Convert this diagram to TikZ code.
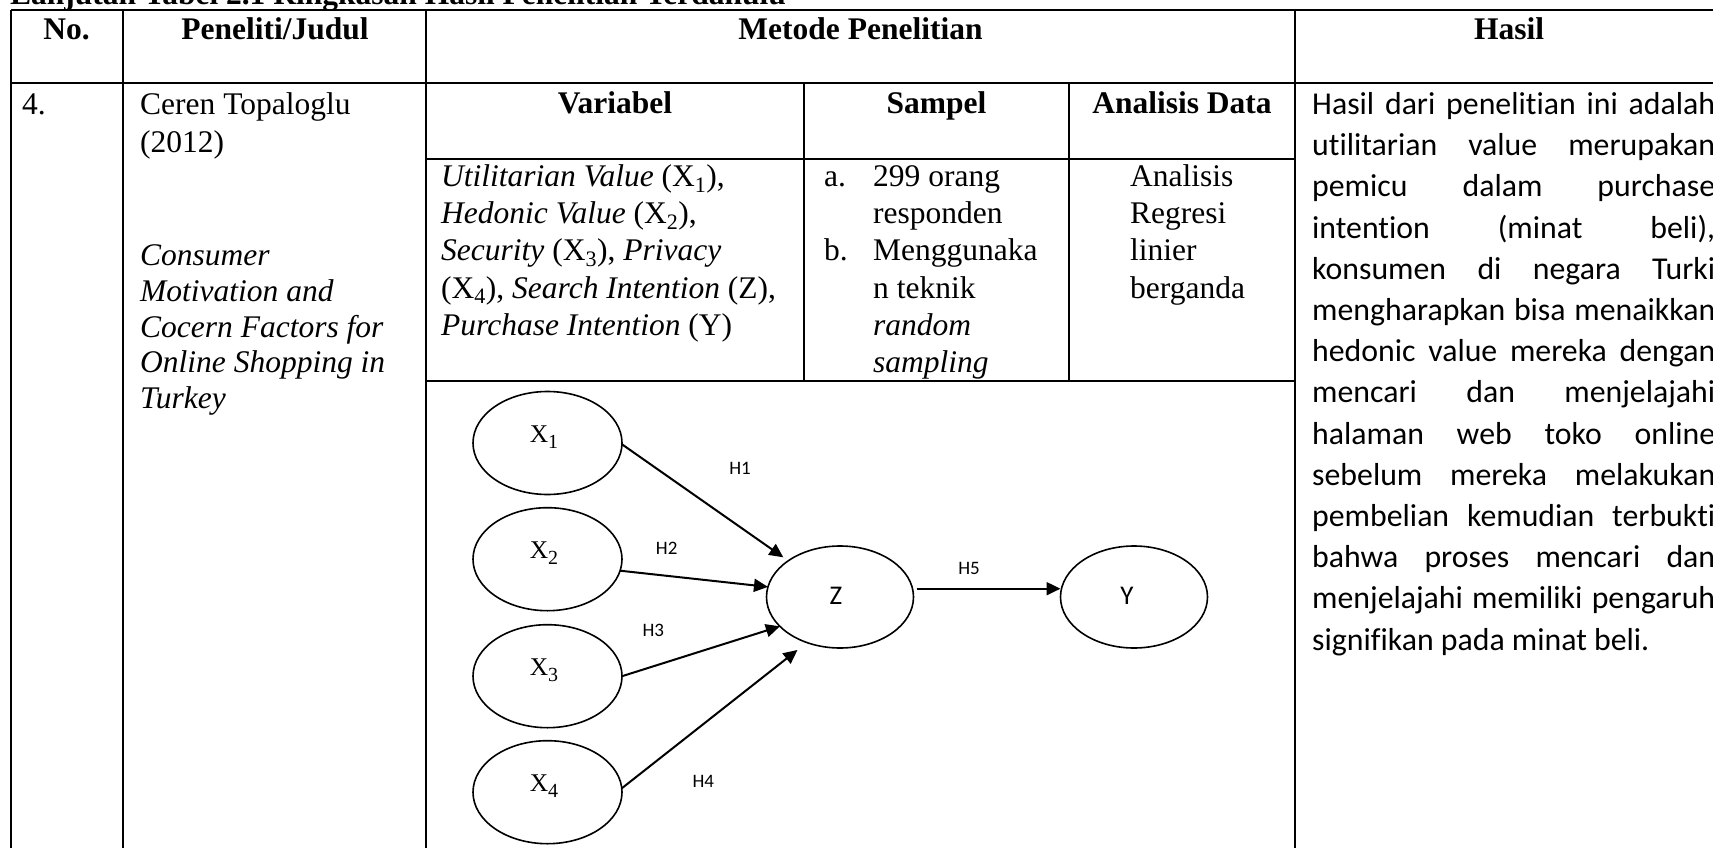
\documentclass[tikz,border=0pt]{standalone}
\usepackage{fontspec}
\setmainfont{Liberation Serif}
\newfontfamily\calibri[Ligatures={NoCommon,NoRare,NoContextual}]{Carlito}
\usetikzlibrary{shapes.geometric,arrows.meta}

% body text size of the table
\newcommand\tnr{\fontsize{31.5}{37.1}\selectfont}
% variable label inside an ellipse: X with a lowered index
\newcommand\varlab[1]{X\raisebox{-6pt}{\fontsize{20}{23}\selectfont #1}}

\tikzset{
  rule/.style={line width=2.2pt},
  hd/.style={font=\bfseries\tnr, anchor=base, inner sep=0pt},
  txt/.style={font=\tnr, anchor=base west, inner sep=0pt},
  ell/.style={draw, ellipse, line width=1.6pt, inner sep=0pt, outer sep=0pt,
              minimum width=149pt, minimum height=103pt},
  arr/.style={line width=2pt, -{Triangle[length=14pt,width=13pt]}},
  hyp/.style={font=\calibri\fontsize{19}{22}\selectfont, inner sep=0pt},
  xlab/.style={font=\fontsize{25.5}{29}\selectfont, anchor=base, inner sep=0pt},
  zlab/.style={font=\calibri\fontsize{27}{30}\selectfont, inner sep=0pt},
}

\begin{document}
\begin{tikzpicture}[x=1pt,y=-1pt]
\useasboundingbox (0,0) rectangle (1713,848);
\clip (0,0) rectangle (1713,848);
\fill[white] (0,0) rectangle (1713,848);

% caption above the table
\node[font=\bfseries\tnr, anchor=base west, inner sep=0pt] (caption) at (10,5)
  {Lanjutan Tabel 2.1 Ringkasan Hasil Penelitian Terdahulu};

% table rules
\draw[rule] (11,9.7) -- (1729,9.7);
\draw[rule] (11,83) -- (1729,83);
\draw[rule] (426,159) -- (1295,159);
\draw[rule] (426,380.7) -- (1295,380.7);
\draw[rule] (11,9.7) -- (11,860);
\draw[rule] (123,9.7) -- (123,860);
\draw[rule] (426,9.7) -- (426,860);
\draw[rule] (1295,9.7) -- (1295,860);
\draw[rule] (1729,9.7) -- (1729,860);
\draw[rule] (804,83) -- (804,380.7);
\draw[rule] (1069,83) -- (1069,380.7);

% header rows
\node[hd] (hno) at (66.5,40) {No.};
\node[hd] (hjudul) at (275,40) {Peneliti/Judul};
\node[hd] (hmetode) at (860.5,40) {Metode Penelitian};
\node[hd] (hhasil) at (1509,40) {Hasil};
\node[hd] (hvar) at (615,113.5) {Variabel};
\node[hd] (hsampel) at (936.5,113.5) {Sampel};
\node[hd] (hanalisis) at (1182,113.5) {Analisis Data};

% row 4
\node[txt] (no) at (22,115) {4.};
\node[txt] (peneliti) at (140,115)
  {\vtop{\hbox{Ceren Topaloglu}\hbox{(2012)}}};
\node[txt] (judul) at (140,265.5)
  {\vtop{\baselineskip=35.8pt\itshape
    \hbox{Consumer}\hbox{Motivation and}\hbox{Cocern Factors for}
    \hbox{Online Shopping in}\hbox{Turkey}}};
\node[txt] (variabel) at (441,186.7)
  {\vtop{\hbox{\textit{Utilitarian Value} (X\textsubscript{1}),}
    \hbox{\textit{Hedonic Value} (X\textsubscript{2}),}
    \hbox{\textit{Security} (X\textsubscript{3}), \textit{Privacy}}
    \hbox{(X\textsubscript{4}), \textit{Search Intention} (Z),}
    \hbox{\textit{Purchase Intention} (Y)}}};
\node[txt] (sampel) at (824,186.7)
  {\vtop{\hbox{\makebox[49pt][l]{a.}299 orang}
    \hbox{\hspace{49pt}responden}
    \hbox{\makebox[49pt][l]{b.}Menggunaka}
    \hbox{\hspace{49pt}n teknik}
    \hbox{\hspace{49pt}\textit{random}}
    \hbox{\hspace{49pt}\textit{sampling}}}};
\node[txt] (analisis) at (1130,186.7)
  {\vtop{\hbox{Analisis}\hbox{Regresi}\hbox{linier}\hbox{berganda}}};
\node[txt, font=\calibri\fontsize{31.8}{41.2}\selectfont] (hasil) at (1312,114.5)
  {\vtop{\hbox to 403pt{Hasil dari penelitian ini adalah}
    \hbox to 403pt{utilitarian value merupakan}
    \hbox to 403pt{pemicu dalam purchase}
    \hbox to 403pt{intention (minat beli),}
    \hbox to 403pt{konsumen di negara Turki}
    \hbox to 403pt{mengharapkan bisa menaikkan}
    \hbox to 403pt{hedonic value mereka dengan}
    \hbox to 403pt{mencari dan menjelajahi}
    \hbox to 403pt{halaman web toko online}
    \hbox to 403pt{sebelum mereka melakukan}
    \hbox to 403pt{pembelian kemudian terbukti}
    \hbox to 403pt{bahwa proses mencari dan}
    \hbox to 403pt{menjelajahi memiliki pengaruh}
    \hbox{signifikan pada minat beli.}}};

% research model
\node[ell] (x1) at (547.5,443) {};
\node[ell] (x2) at (547.5,559.2) {};
\node[ell] (x3) at (547.5,676.2) {};
\node[ell] (x4) at (547.5,792.2) {};
\node[ell, minimum width=147pt, minimum height=102pt] (z) at (840,597) {};
\node[ell, minimum width=147pt, minimum height=102pt] (y) at (1134,597) {};

\node[xlab] (lx1) at (544,442) {\varlab{1}};
\node[xlab] (lx2) at (544,558.2) {\varlab{2}};
\node[xlab] (lx3) at (544,675.2) {\varlab{3}};
\node[xlab] (lx4) at (544,791.2) {\varlab{4}};
\node[zlab] (lz) at (836,596) {Z};
\node[zlab] (ly) at (1127,596) {Y};

\draw[arr, shorten >=6pt] (x1.-1.5) -- (z.145.5);
\draw[arr] (x2.-9) -- (z.172);
\draw[arr] (x3.east) -- (z.206);
\draw[arr, shorten >=12pt] (x4.3) -- (z.234);
\draw[arr, shorten <=3pt] ([yshift=8.3pt]z.east) -- ([yshift=8.3pt]y.west);

\node[hyp] (h1) at (740,468.3) {H1};
\node[hyp] (h2) at (666.7,548.3) {H2};
\node[hyp] (h3) at (653.3,630.7) {H3};
\node[hyp] (h4) at (703.3,781.7) {H4};
\node[hyp] (h5) at (969,568.3) {H5};
\end{tikzpicture}
\end{document}
